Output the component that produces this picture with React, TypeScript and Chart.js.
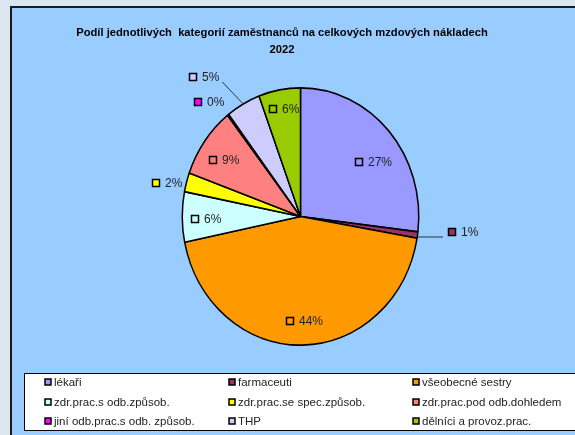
import { useEffect, useRef } from "react";
import { Chart, registerables } from "chart.js";

Chart.register(...registerables);

const titleLines = [
  "Podíl jednotlivých  kategorií zaměstnanců na celkových mzdových nákladech",
  "2022",
];

const categories = [
  "lékaři",
  "farmaceuti",
  "všeobecné sestry",
  "zdr.prac.s odb.způsob.",
  "zdr.prac.se spec.způsob.",
  "zdr.prac.pod odb.dohledem",
  "jiní odb.prac.s odb. způsob.",
  "THP",
  "dělníci a provoz.prac.",
];

const shares = [26.9, 0.8, 44.1, 6.3, 2.4, 8.9, 0.2, 4.7, 5.7];

const sliceColors = [
  "#9999ff",
  "#993366",
  "#ff9900",
  "#ccffff",
  "#ffff00",
  "#ff8080",
  "#ff00ff",
  "#ccccff",
  "#99cc00",
];

const FONT = '"Liberation Sans", Arial, sans-serif';
const Y_STRETCH = 1.088;
// [radial factor, angle shift in degrees] for each data label
const labelPlacement = [
  [0.65, 1],
  [1.29, -3],
  [0.82, 7],
  [0.89, -1],
  [1.25, -3.5],
  [0.86, -5],
  [1.24, -6.5],
  [1.41, -11],
  [0.87, -5.3],
];

const framePlugin = {
  id: "frame",
  beforeDraw(chart: any) {
    const ctx = chart.ctx;
    ctx.save();
    ctx.fillStyle = "#dce6f1";
    ctx.fillRect(0, 0, chart.width, chart.height);
    ctx.fillStyle = "#99ccff";
    ctx.fillRect(10, 6, chart.width, chart.height);
    ctx.strokeStyle = "#1a1a1a";
    ctx.lineWidth = 2;
    ctx.strokeRect(11, 7, chart.width + 20, chart.height + 20);
    // title
    ctx.fillStyle = "#000";
    ctx.font = "bold 11.2px " + FONT;
    ctx.textAlign = "center";
    ctx.textBaseline = "middle";
    ctx.fillText(titleLines[0], 282, 33);
    ctx.fillText(titleLines[1], 282, 50);
    // legend
    ctx.fillStyle = "#ffffff";
    ctx.fillRect(24.5, 373.5, chart.width, 57);
    ctx.strokeStyle = "#000";
    ctx.lineWidth = 1;
    ctx.strokeRect(24.5, 373.5, chart.width, 57);
    const colX = [48, 232, 416];
    const rowY = [382, 402, 421];
    ctx.font = "11.5px " + FONT;
    ctx.textAlign = "left";
    categories.forEach((c, i) => {
      const x = colX[i % 3];
      const y = rowY[Math.floor(i / 3)];
      ctx.fillStyle = sliceColors[i];
      ctx.fillRect(x - 3, y - 3, 6, 6);
      ctx.strokeStyle = "#000";
      ctx.lineWidth = 1.5;
      ctx.strokeRect(x - 3, y - 3, 6, 6);
      ctx.fillStyle = "#222";
      ctx.fillText(c, x + 6, y + 1);
    });
    ctx.restore();
  },
  beforeDatasetsDraw(chart: any) {
    const meta = chart.getDatasetMeta(0);
    const a = meta.data[0];
    const ctx = chart.ctx;
    ctx.save();
    ctx.translate(a.x, a.y);
    ctx.scale(1, Y_STRETCH);
    ctx.translate(-a.x, -a.y);
  },
  afterDatasetsDraw(chart: any) {
    const ctx = chart.ctx;
    ctx.restore();
    const meta = chart.getDatasetMeta(0);
    const total = shares.reduce((s, v) => s + v, 0);
    ctx.save();
    ctx.font = "12px " + FONT;
    ctx.textBaseline = "middle";
    ctx.textAlign = "left";
    meta.data.forEach((arc: any, i: number) => {
      const p = arc.getProps(["x", "y", "startAngle", "endAngle", "outerRadius"], true);
      const baseMid = (p.startAngle + p.endAngle) / 2;
      const [f, shift] = labelPlacement[i];
      const mid = baseMid + (shift * Math.PI) / 180;
      const px = Math.round(p.x + Math.cos(mid) * p.outerRadius * f);
      const py = Math.round(p.y + Math.sin(mid) * p.outerRadius * f * Y_STRETCH);
      const text = Math.round((shares[i] / total) * 100) + "%";
      const tw = ctx.measureText(text).width;
      if (f > 1.28) {
        const right = Math.cos(mid) > 0;
        const ex = p.x + Math.cos(baseMid) * p.outerRadius;
        const ey = right ? py + 5 : p.y + Math.sin(baseMid) * p.outerRadius * Y_STRETCH;
        const lx = right ? px - 9 : px + 9 + tw + 3;
        ctx.strokeStyle = "#333";
        ctx.lineWidth = 1;
        ctx.beginPath();
        ctx.moveTo(ex, ey);
        ctx.lineTo(lx, py + 5);
        ctx.stroke();
      }
      ctx.fillStyle = sliceColors[i];
      ctx.fillRect(px - 3.5, py - 3.5, 7, 7);
      ctx.strokeStyle = "#000";
      ctx.lineWidth = 1.5;
      ctx.strokeRect(px - 3.5, py - 3.5, 7, 7);
      ctx.fillStyle = "#222";
      ctx.fillText(text, px + 9, py + 1);
    });
    ctx.restore();
  },
};

export default function App() {
  const ref = useRef<HTMLCanvasElement | null>(null);
  useEffect(() => {
    document.body.style.margin = "0";
    const chart = new Chart(ref.current as HTMLCanvasElement, {
      type: "pie",
      data: {
        labels: categories,
        datasets: [
          {
            data: shares,
            backgroundColor: sliceColors,
            borderColor: "#000",
            borderWidth: 1.5,
          },
        ],
      },
      options: {
        responsive: false,
        animation: false,
        layout: { padding: { left: 181.5, right: 155.5, top: 97.5, bottom: 99.5 } },
        plugins: {
          legend: { display: false },
          title: { display: false },
          tooltip: { enabled: false },
        },
      },
      plugins: [framePlugin],
    });
    return () => chart.destroy();
  }, []);
  return <canvas ref={ref} width={575} height={435} style={{ display: "block" }} />;
}
